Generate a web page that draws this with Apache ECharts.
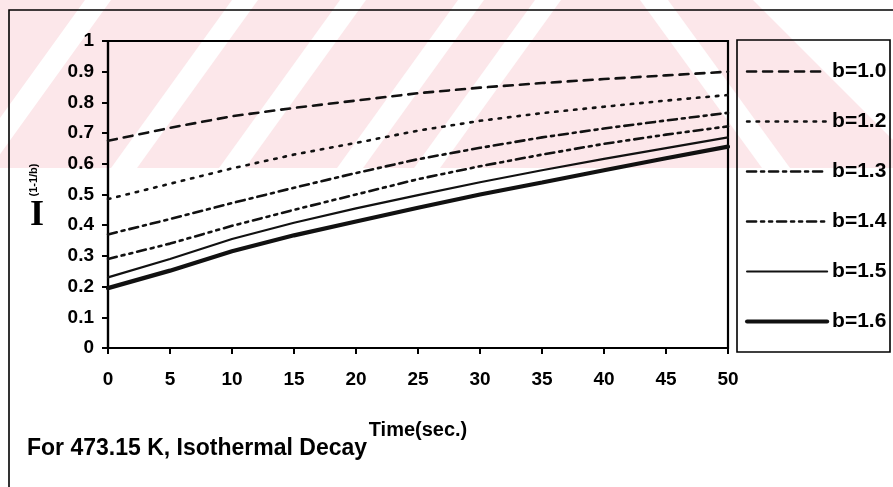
<!DOCTYPE html>
<html><head><meta charset="utf-8">
<script src="https://cdn.jsdelivr.net/npm/echarts@6/dist/echarts.min.js"></script>
<style>html,body{margin:0;padding:0;background:#fff}#c{width:893px;height:487px}</style>
</head><body><div id="c"></div>
<script>
// ---- data ----
const times = [0, 5, 10, 15, 20, 25, 30, 35, 40, 45, 50];
const seriesNames = ['b=1.0', 'b=1.2', 'b=1.3', 'b=1.4', 'b=1.5', 'b=1.6'];
const b10 = [0.675, 0.717, 0.755, 0.782, 0.806, 0.830, 0.848, 0.863, 0.876, 0.888, 0.900];
const b12 = [0.485, 0.535, 0.585, 0.630, 0.668, 0.708, 0.740, 0.765, 0.786, 0.806, 0.824];
const b13 = [0.370, 0.420, 0.472, 0.522, 0.570, 0.615, 0.652, 0.686, 0.715, 0.741, 0.766];
const b14 = [0.290, 0.340, 0.398, 0.450, 0.500, 0.550, 0.592, 0.630, 0.665, 0.695, 0.722];
const b15 = [0.230, 0.290, 0.355, 0.408, 0.455, 0.498, 0.540, 0.579, 0.616, 0.651, 0.686];
const b16 = [0.195, 0.252, 0.315, 0.367, 0.412, 0.457, 0.500, 0.539, 0.579, 0.618, 0.656];
const xTicks = { min: 0, max: 50, step: 5 };
const yTicks = { min: 0, max: 1, step: 0.1 };

const allValues = [b10, b12, b13, b14, b15, b16];
const styles = [
  { width: 2.6, type: [9, 7] },
  { width: 2.6, type: [2.5, 7] },
  { width: 2.6, type: [9, 5, 3, 5] },
  { width: 2.6, type: [9, 5, 3, 5, 3, 5] },
  { width: 2.2, type: 'solid' },
  { width: 4.2, type: 'solid' }
];

const FONT = 'Liberation Sans, Arial, sans-serif';
const PINK = '#fce7ea';

// watermark (decorative background)
const wm = [{ type: 'rect', silent: true, z: -10, shape: { x: 0, y: 0, width: 893, height: 168 }, style: { fill: PINK } }];
[85, 232, 340, 458, 535].forEach(function (x0) {
  const d = 0.72 * 168;
  wm.push({ type: 'polygon', silent: true, z: -9,
    shape: { points: [[x0, 0], [x0 + 26, 0], [x0 + 26 - d, 168], [x0 - d, 168]] }, style: { fill: '#fff' } });
});
wm.push({ type: 'polygon', silent: true, z: -9, shape: { points: [[640, 0], [668, 0], [790, 168], [762, 168]] }, style: { fill: '#fff' } });
wm.push({ type: 'polygon', silent: true, z: -9, shape: { points: [[753, 0], [893, 0], [893, 140]] }, style: { fill: '#fff' } });

const chart = echarts.init(document.getElementById('c'), null, { renderer: 'canvas' });
chart.setOption({
  backgroundColor: '#fff',
  animation: false,
  grid: { left: 108, right: 165, top: 41, bottom: 139, show: true, borderColor: '#000', borderWidth: 2.2, backgroundColor: 'transparent' },
  xAxis: {
    type: 'value', min: xTicks.min, max: xTicks.max, interval: xTicks.step,
    axisLine: { show: true, onZero: false, lineStyle: { color: '#000', width: 2.2 } },
    axisTick: { show: true, inside: false, length: 6, lineStyle: { color: '#000', width: 2 } },
    axisLabel: { margin: 22, color: '#000', fontFamily: FONT, fontWeight: 'bold', fontSize: 19 },
    splitLine: { show: false }
  },
  yAxis: {
    type: 'value', min: yTicks.min, max: yTicks.max, interval: yTicks.step,
    axisLine: { show: true, onZero: false, lineStyle: { color: '#000', width: 2.2 } },
    axisTick: { show: true, inside: false, length: 6, lineStyle: { color: '#000', width: 2 } },
    axisLabel: { margin: 14, color: '#000', fontFamily: FONT, fontWeight: 'bold', fontSize: 19,
      formatter: function (v) { return String(Math.round(v * 10) / 10); } },
    splitLine: { show: false }
  },
  legend: {
    orient: 'vertical', left: 745, top: 61, itemWidth: 80, itemHeight: 14, itemGap: 29, padding: 0,
    data: seriesNames.map(function (n, i) {
      return { name: n, lineStyle: { color: '#111', width: styles[i].width, type: styles[i].type } };
    }),
    itemStyle: { opacity: 0 },
    textStyle: { fontFamily: FONT, fontWeight: 'bold', fontSize: 21, color: '#000' }
  },
  graphic: wm.concat([
    { type: 'rect', silent: true, z: 5, shape: { x: 9, y: 10, width: 900, height: 500 }, style: { fill: 'none', stroke: '#000', lineWidth: 1.6 } },
    { type: 'rect', silent: true, z: 5, shape: { x: 737, y: 40, width: 153, height: 312 }, style: { fill: 'none', stroke: '#000', lineWidth: 1.6 } },
    { type: 'text', z: 5, x: 37, y: 216, style: { text: 'I', font: 'bold 36px "Liberation Serif", "Times New Roman", serif', fill: '#000', align: 'center', verticalAlign: 'middle' } },
    { type: 'text', z: 5, x: 34, y: 180, rotation: Math.PI / 2, style: { text: '(1-1/b)', font: 'bold 11px ' + FONT, fill: '#000', align: 'center', verticalAlign: 'middle' } },
    { type: 'text', z: 5, x: 418, y: 430, style: { text: 'Time(sec.)', font: 'bold 20px ' + FONT, fill: '#000', align: 'center', verticalAlign: 'middle', letterSpacing: -0.5 } },
    { type: 'text', z: 5, x: 27, y: 449, style: { text: 'For 473.15 K, Isothermal Decay', font: 'bold 23px ' + FONT, fill: '#000', align: 'left', verticalAlign: 'middle' } }
  ]),
  series: seriesNames.map(function (name, i) {
    return {
      name: name, type: 'line', symbol: 'none', showSymbol: false, smooth: false,
      data: times.map(function (t, j) { return [t, allValues[i][j]]; }),
      lineStyle: { color: '#111', width: styles[i].width, type: styles[i].type, cap: 'round' },
      itemStyle: { color: '#111' }
    };
  })
});
</script></body></html>
